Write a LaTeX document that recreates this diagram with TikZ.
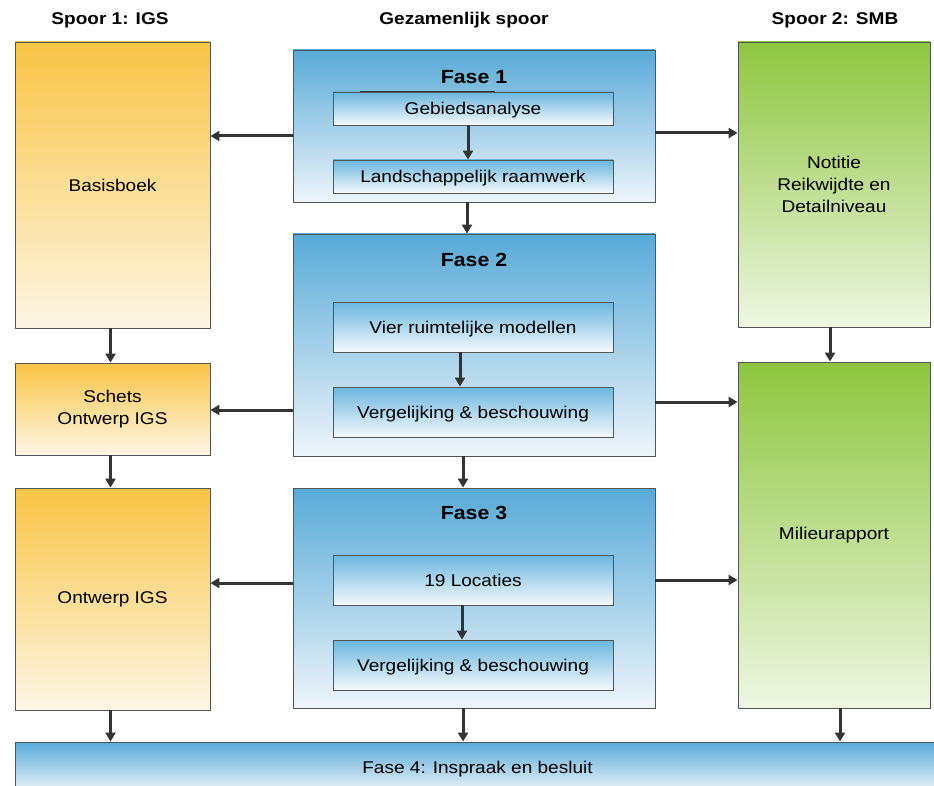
\documentclass[tikz,border=0pt]{standalone}
\usepackage{fontspec}
\setmainfont{Liberation Sans}[FakeStretch=1.12]
\usetikzlibrary{arrows.meta}
\definecolor{linegray}{HTML}{555555}
\definecolor{arrowgray}{HTML}{333333}
\definecolor{ytop}{HTML}{F8C445}
\definecolor{ybot}{HTML}{FDF6E6}
\definecolor{gtop}{HTML}{8EC63F}
\definecolor{gbot}{HTML}{EEF6E2}
\definecolor{btop}{HTML}{58AAD7}
\definecolor{bbot}{HTML}{EEF5FA}
\definecolor{itop}{HTML}{6BB6DE}
\definecolor{ibot}{HTML}{F4F9FC}
\begin{document}
\begin{tikzpicture}[x=1pt,y=-1pt,
  box/.style={draw=linegray, line width=0.9pt, inner sep=0pt, align=center,
    font=\fontsize{17}{22}\selectfont},
  ybox/.style={box, top color=ytop, bottom color=ybot},
  gbox/.style={box, top color=gtop, bottom color=gbot},
  fasebox/.style={box, top color=btop, bottom color=bbot},
  innerbox/.style={box, top color=itop, bottom color=ibot, minimum width=280pt,
    text height=12pt, text depth=0pt},
  hdr/.style={font=\fontsize{17}{20}\selectfont\bfseries, inner sep=0pt},
  ftitle/.style={font=\fontsize{19}{23}\selectfont\bfseries, inner sep=0pt},
  arr/.style={draw=arrowgray, line width=3pt, -{Triangle[length=9pt,width=10pt]}}
]
\useasboundingbox (0,0) rectangle (934,786);
\fill[white] (0,0) rectangle (934,786);

% headers
\node[hdr] (h1) at (110,20) {Spoor 1: IGS};
\node[hdr] (h2) at (464,20) {Gezamenlijk spoor};
\node[hdr] (h3) at (835,20) {Spoor 2: SMB};

% left track
\node[ybox, minimum width=195pt, minimum height=286pt] (basis) at (112.5,185) {Basisboek};
\node[ybox, minimum width=195pt, minimum height=92pt] (schets) at (112.5,409) {Schets\\Ontwerp IGS};
\node[ybox, minimum width=195pt, minimum height=222pt] (ontwerp) at (112.5,599) {Ontwerp IGS};

% right track
\node[gbox, minimum width=192pt, minimum height=285pt] (notitie) at (834,184.5) {Notitie\\Reikwijdte en\\Detailniveau};
\node[gbox, minimum width=192pt, minimum height=346pt] (milieu) at (834,535) {Milieurapport};

% middle track
\node[fasebox, minimum width=362pt, minimum height=152pt] (fase1) at (474,126) {};
\node[ftitle] (t1) at (474,77) {Fase 1};
\node[innerbox, minimum height=33pt] (f1a) at (473,108.5) {Gebiedsanalyse};
\node[innerbox, minimum height=33pt] (f1b) at (473,176.5) {Landschappelijk raamwerk};
\draw[line width=1.6pt, arrowgray] (f1a.north -| 360,0) -- (f1a.north -| 495,0);

\node[fasebox, minimum width=362pt, minimum height=222pt] (fase2) at (474,345) {};
\node[ftitle] (t2) at (474,260) {Fase 2};
\node[innerbox, minimum height=50pt] (f2a) at (473,327) {Vier ruimtelijke modellen};
\node[innerbox, minimum height=50pt] (f2b) at (473,412) {Vergelijking \& beschouwing};

\node[fasebox, minimum width=362pt, minimum height=220pt] (fase3) at (474,598) {};
\node[ftitle] (t3) at (474,513) {Fase 3};
\node[innerbox, minimum height=50pt] (f3a) at (473,580) {19 Locaties};
\node[innerbox, minimum height=50pt] (f3b) at (473,665) {Vergelijking \& beschouwing};

\node[fasebox, minimum width=925pt, minimum height=50pt, text height=12pt, text depth=0pt] (fase4) at (477.5,767) {Fase 4: Inspraak en besluit};

% inner arrows
\draw[arr] ([xshift=-5pt]f1a.south) -- ([xshift=-5pt]f1b.north);
\draw[arr] ([xshift=-13pt]f2a.south) -- ([xshift=-13pt]f2b.north);
\draw[arr] ([xshift=-11pt]f3a.south) -- ([xshift=-11pt]f3b.north);

% vertical arrows
\draw[arr] ([xshift=-7pt]fase1.south) -- ([xshift=-7pt]fase2.north);
\draw[arr] ([xshift=-11pt]fase2.south) -- ([xshift=-11pt]fase3.north);
\draw[arr] ([xshift=-11pt]fase3.south) -- ([xshift=-11pt]fase3.south |- fase4.north);
\draw[arr] ([xshift=-2pt]basis.south) -- ([xshift=-2pt]schets.north);
\draw[arr] ([xshift=-2pt]schets.south) -- ([xshift=-2pt]ontwerp.north);
\draw[arr] ([xshift=-2pt]ontwerp.south) -- ([xshift=-2pt]ontwerp.south |- fase4.north);
\draw[arr] ([xshift=-4pt]notitie.south) -- ([xshift=-4pt]milieu.north);
\draw[arr] ([xshift=6pt]milieu.south) -- ([xshift=6pt]milieu.south |- fase4.north);

% horizontal arrows
\draw[arr] (fase1.west |- 0,136) -- (basis.east |- 0,136);
\draw[arr] (fase1.east |- 0,133) -- (notitie.west |- 0,133);
\draw[arr] (fase2.west |- 0,410) -- (schets.east |- 0,410);
\draw[arr] (fase2.east |- 0,402) -- (milieu.west |- 0,402);
\draw[arr] (fase3.west |- 0,583) -- (ontwerp.east |- 0,583);
\draw[arr] (fase3.east |- 0,580) -- (milieu.west |- 0,580);
\end{tikzpicture}
\end{document}
